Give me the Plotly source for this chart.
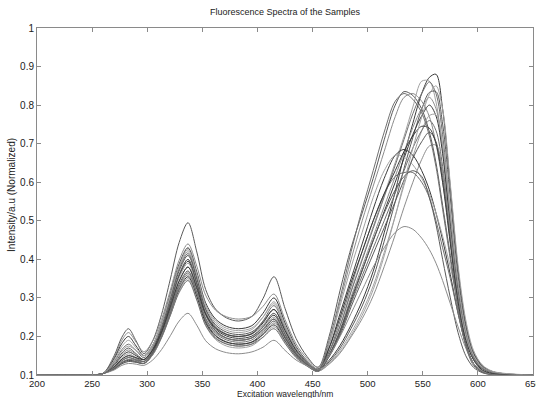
import plotly.graph_objects as go

wavelength = [200, 250, 260, 270, 277, 283, 290, 297, 305, 313, 321, 329, 337, 345, 353, 362, 372, 383,
              395, 405, 415, 425, 435, 445, 455, 465, 475, 485, 495, 505, 515, 525, 533, 541, 549, 556,
              562, 568, 575, 582, 589, 596, 604, 613, 625, 650]

s01 = [0.1, 0.1, 0.104, 0.150, 0.198, 0.220, 0.188, 0.155, 0.189, 0.257, 0.349, 0.444, 0.495, 0.419, 0.322, 0.271, 0.248, 0.240,
       0.252, 0.298, 0.355, 0.273, 0.195, 0.148, 0.120, 0.20, 0.32, 0.43, 0.52, 0.61, 0.71, 0.80, 0.835, 0.825, 0.79, 0.73,
       0.65, 0.54, 0.41, 0.28, 0.18, 0.13, 0.108, 0.102, 0.1, 0.1]
s02 = [0.1, 0.1, 0.104, 0.146, 0.190, 0.210, 0.185, 0.160, 0.188, 0.244, 0.320, 0.398, 0.440, 0.382, 0.307, 0.268, 0.251, 0.245,
       0.252, 0.278, 0.310, 0.244, 0.181, 0.143, 0.120, 0.18, 0.29, 0.40, 0.50, 0.59, 0.68, 0.77, 0.82, 0.83, 0.81, 0.77,
       0.70, 0.60, 0.46, 0.31, 0.20, 0.14, 0.11, 0.102, 0.1, 0.1]
s03 = [0.1, 0.1, 0.104, 0.142, 0.182, 0.200, 0.175, 0.150, 0.178, 0.234, 0.310, 0.388, 0.430, 0.367, 0.287, 0.245, 0.226, 0.220,
       0.228, 0.260, 0.300, 0.235, 0.174, 0.137, 0.115, 0.138, 0.177, 0.230, 0.292, 0.369, 0.469, 0.576, 0.669, 0.753, 0.830, 0.872,
       0.880, 0.790, 0.586, 0.374, 0.233, 0.159, 0.124, 0.109, 0.103, 0.1]
s04 = [0.1, 0.1, 0.104, 0.138, 0.174, 0.190, 0.170, 0.150, 0.177, 0.231, 0.304, 0.380, 0.420, 0.357, 0.277, 0.235, 0.216, 0.210,
       0.218, 0.250, 0.290, 0.229, 0.171, 0.136, 0.115, 0.160, 0.228, 0.319, 0.402, 0.485, 0.568, 0.651, 0.719, 0.795, 0.862, 0.862,
       0.808, 0.685, 0.485, 0.316, 0.200, 0.146, 0.118, 0.106, 0.102, 0.1]
s05 = [0.1, 0.1, 0.104, 0.134, 0.166, 0.180, 0.163, 0.145, 0.172, 0.226, 0.299, 0.375, 0.415, 0.351, 0.269, 0.226, 0.206, 0.200,
       0.208, 0.240, 0.280, 0.222, 0.168, 0.135, 0.115, 0.160, 0.227, 0.316, 0.398, 0.480, 0.562, 0.644, 0.711, 0.778, 0.830, 0.860,
       0.830, 0.723, 0.518, 0.336, 0.214, 0.149, 0.119, 0.108, 0.102, 0.1]
s06 = [0.1, 0.1, 0.104, 0.129, 0.157, 0.170, 0.155, 0.140, 0.167, 0.221, 0.294, 0.370, 0.410, 0.349, 0.271, 0.230, 0.211, 0.205,
       0.212, 0.238, 0.270, 0.215, 0.163, 0.131, 0.112, 0.134, 0.170, 0.221, 0.279, 0.352, 0.447, 0.549, 0.636, 0.716, 0.789, 0.833,
       0.835, 0.751, 0.559, 0.359, 0.226, 0.156, 0.122, 0.109, 0.103, 0.1]
s07 = [0.1, 0.1, 0.104, 0.127, 0.153, 0.165, 0.153, 0.140, 0.166, 0.218, 0.288, 0.361, 0.400, 0.340, 0.264, 0.224, 0.206, 0.200,
       0.206, 0.230, 0.260, 0.208, 0.159, 0.130, 0.112, 0.154, 0.218, 0.303, 0.381, 0.459, 0.537, 0.615, 0.678, 0.742, 0.792, 0.820,
       0.791, 0.690, 0.496, 0.323, 0.208, 0.147, 0.118, 0.107, 0.102, 0.1]
s08 = [0.1, 0.1, 0.104, 0.125, 0.149, 0.160, 0.150, 0.140, 0.166, 0.217, 0.285, 0.357, 0.395, 0.335, 0.259, 0.219, 0.201, 0.195,
       0.201, 0.225, 0.255, 0.204, 0.156, 0.127, 0.110, 0.151, 0.214, 0.296, 0.372, 0.448, 0.524, 0.600, 0.662, 0.724, 0.772, 0.800,
       0.772, 0.674, 0.485, 0.317, 0.205, 0.146, 0.118, 0.107, 0.102, 0.1]
s09 = [0.1, 0.1, 0.104, 0.123, 0.145, 0.155, 0.145, 0.135, 0.161, 0.212, 0.280, 0.352, 0.390, 0.330, 0.254, 0.214, 0.196, 0.190,
       0.196, 0.220, 0.250, 0.201, 0.155, 0.127, 0.110, 0.130, 0.164, 0.210, 0.264, 0.331, 0.418, 0.512, 0.592, 0.666, 0.733, 0.773,
       0.775, 0.698, 0.522, 0.338, 0.216, 0.151, 0.120, 0.108, 0.103, 0.1]
s10 = [0.1, 0.1, 0.104, 0.121, 0.141, 0.150, 0.143, 0.135, 0.160, 0.209, 0.275, 0.343, 0.380, 0.322, 0.247, 0.208, 0.191, 0.185,
       0.191, 0.215, 0.245, 0.198, 0.153, 0.126, 0.110, 0.149, 0.208, 0.286, 0.357, 0.429, 0.500, 0.572, 0.630, 0.689, 0.734, 0.760,
       0.734, 0.641, 0.463, 0.305, 0.199, 0.143, 0.117, 0.107, 0.102, 0.1]
s11 = [0.1, 0.1, 0.104, 0.119, 0.137, 0.145, 0.140, 0.135, 0.159, 0.206, 0.269, 0.335, 0.370, 0.313, 0.241, 0.203, 0.186, 0.180,
       0.186, 0.210, 0.240, 0.195, 0.152, 0.126, 0.110, 0.147, 0.203, 0.277, 0.346, 0.414, 0.482, 0.550, 0.606, 0.662, 0.705, 0.730,
       0.705, 0.617, 0.447, 0.295, 0.195, 0.141, 0.116, 0.106, 0.102, 0.1]
s12 = [0.1, 0.1, 0.104, 0.117, 0.133, 0.140, 0.135, 0.130, 0.153, 0.199, 0.261, 0.326, 0.360, 0.305, 0.234, 0.197, 0.181, 0.175,
       0.181, 0.205, 0.235, 0.191, 0.150, 0.125, 0.110, 0.128, 0.157, 0.199, 0.246, 0.305, 0.381, 0.464, 0.535, 0.600, 0.659, 0.694,
       0.696, 0.628, 0.472, 0.310, 0.202, 0.145, 0.118, 0.107, 0.102, 0.1]
s13 = [0.1, 0.1, 0.104, 0.116, 0.131, 0.138, 0.134, 0.130, 0.153, 0.198, 0.258, 0.321, 0.355, 0.303, 0.236, 0.201, 0.185, 0.180,
       0.185, 0.205, 0.230, 0.188, 0.148, 0.124, 0.110, 0.17, 0.26, 0.35, 0.44, 0.53, 0.61, 0.67, 0.685, 0.67, 0.63, 0.58,
       0.52, 0.45, 0.36, 0.26, 0.18, 0.13, 0.108, 0.102, 0.1, 0.1]
s14 = [0.1, 0.1, 0.104, 0.115, 0.129, 0.135, 0.133, 0.130, 0.152, 0.196, 0.255, 0.317, 0.350, 0.296, 0.228, 0.192, 0.175, 0.170,
       0.176, 0.198, 0.225, 0.185, 0.147, 0.124, 0.110, 0.18, 0.28, 0.38, 0.47, 0.56, 0.63, 0.67, 0.665, 0.645, 0.61, 0.57,
       0.52, 0.46, 0.38, 0.29, 0.20, 0.14, 0.112, 0.103, 0.1, 0.1]
s15 = [0.1, 0.1, 0.104, 0.117, 0.133, 0.140, 0.138, 0.135, 0.156, 0.198, 0.255, 0.314, 0.345, 0.294, 0.229, 0.195, 0.180, 0.175,
       0.180, 0.198, 0.220, 0.182, 0.145, 0.123, 0.110, 0.16, 0.24, 0.33, 0.42, 0.50, 0.57, 0.615, 0.625, 0.625, 0.60, 0.56,
       0.50, 0.43, 0.35, 0.26, 0.18, 0.13, 0.11, 0.102, 0.1, 0.1]
s16 = [0.1, 0.1, 0.104, 0.115, 0.129, 0.135, 0.133, 0.130, 0.157, 0.211, 0.284, 0.360, 0.400, 0.337, 0.257, 0.215, 0.196, 0.190,
       0.196, 0.218, 0.245, 0.198, 0.155, 0.128, 0.112, 0.15, 0.21, 0.29, 0.37, 0.45, 0.52, 0.58, 0.615, 0.63, 0.615, 0.56,
       0.49, 0.40, 0.30, 0.21, 0.15, 0.12, 0.106, 0.101, 0.1, 0.1]
s17 = [0.1, 0.1, 0.104, 0.113, 0.125, 0.130, 0.128, 0.125, 0.139, 0.166, 0.202, 0.240, 0.260, 0.229, 0.189, 0.168, 0.158, 0.155,
       0.160, 0.172, 0.190, 0.164, 0.139, 0.124, 0.115, 0.15, 0.20, 0.26, 0.32, 0.38, 0.43, 0.47, 0.485, 0.478, 0.455, 0.425,
       0.39, 0.345, 0.285, 0.225, 0.17, 0.13, 0.11, 0.102, 0.1, 0.1]
s18 = [0.1, 0.1, 0.104, 0.121, 0.141, 0.150, 0.145, 0.140, 0.164, 0.212, 0.277, 0.344, 0.380, 0.326, 0.258, 0.222, 0.205, 0.200,
       0.207, 0.235, 0.270, 0.216, 0.165, 0.134, 0.115, 0.17, 0.25, 0.34, 0.42, 0.50, 0.57, 0.63, 0.68, 0.72, 0.745, 0.74,
       0.70, 0.60, 0.44, 0.29, 0.19, 0.14, 0.113, 0.104, 0.101, 0.1]
s19 = [0.1, 0.1, 0.104, 0.132, 0.162, 0.175, 0.163, 0.150, 0.178, 0.233, 0.307, 0.384, 0.425, 0.362, 0.282, 0.240, 0.221, 0.215,
       0.222, 0.250, 0.285, 0.226, 0.169, 0.135, 0.115, 0.130, 0.159, 0.203, 0.255, 0.321, 0.409, 0.512, 0.600, 0.688, 0.769, 0.828,
       0.850, 0.790, 0.595, 0.385, 0.243, 0.164, 0.126, 0.110, 0.104, 0.1]
s20 = [0.1, 0.1, 0.104, 0.119, 0.137, 0.145, 0.138, 0.130, 0.154, 0.201, 0.264, 0.330, 0.365, 0.313, 0.246, 0.211, 0.195, 0.190,
       0.197, 0.225, 0.260, 0.208, 0.159, 0.130, 0.112, 0.19, 0.30, 0.42, 0.53, 0.63, 0.73, 0.81, 0.83, 0.815, 0.78, 0.72,
       0.64, 0.53, 0.40, 0.27, 0.175, 0.125, 0.107, 0.101, 0.1, 0.1]

samples = [s01, s02, s03, s04, s05, s06, s07, s08, s09, s10,
           s11, s12, s13, s14, s15, s16, s17, s18, s19, s20]

x_ticks = [200, 250, 300, 350, 400, 450, 500, 550, 600, 650]
x_tick_text = ["200", "250", "300", "350", "400", "450", "500", "550", "600", "650"]
y_ticks = [0.1, 0.2, 0.3, 0.4, 0.5, 0.6, 0.7, 0.8, 0.9, 1.0]
y_tick_text = ["0.1", "0.2", "0.3", "0.4", "0.5", "0.6", "0.7", "0.8", "0.9", "1"]

palette = ["#5a5a5a", "#8c8c8c", "#3a3a3a", "#a2a2a2", "#707070"]

fig = go.Figure()
for i, s in enumerate(samples):
    fig.add_trace(go.Scatter(
        x=wavelength, y=s, mode="lines",
        line=dict(color=palette[i % len(palette)], width=1, shape="spline", smoothing=0.9),
        showlegend=False, hoverinfo="skip"))

axis_common = dict(
    showline=True, linecolor="#8a8a8a", linewidth=1, mirror="ticks",
    ticks="inside", ticklen=4, tickcolor="#8a8a8a", tickwidth=1,
    showgrid=False, zeroline=False, automargin=False, ticklabeloverflow="allow",
    tickfont=dict(family="Liberation Sans, Arial, sans-serif", size=10, color="#222222"),
)

fig.update_xaxes(range=[200, 650], tickvals=x_ticks, ticktext=x_tick_text, **axis_common)
fig.update_yaxes(range=[0.1, 1.0], tickvals=y_ticks, ticktext=y_tick_text, **axis_common)
fig.update_xaxes(tickfont=dict(size=9.5), ticklabelstandoff=0)

font_txt = dict(family="Liberation Sans, Arial, sans-serif", size=9, color="#222222")
fig.update_layout(
    template="none",
    width=536, height=398,
    margin=dict(l=37, r=3, t=28, b=23),
    paper_bgcolor="white", plot_bgcolor="white",
    annotations=[
        dict(text="Fluorescence Spectra of the Samples", xref="paper", yref="paper",
             x=0.5, y=1.046, xanchor="center", yanchor="middle", showarrow=False, font=font_txt),
        dict(text="Excitation wavelength/nm", xref="paper", yref="paper",
             x=0.5, y=-0.0346, xanchor="center", yanchor="top", showarrow=False,
             font=dict(family="Liberation Sans, Arial, sans-serif", size=8.5, color="#222222")),
        dict(text="Intensity/a.u (Normalized)", xref="paper", yref="paper",
             x=-0.0504, y=0.519, xanchor="center", yanchor="middle", textangle=-90,
             showarrow=False, font=dict(family="Liberation Sans, Arial, sans-serif", size=10, color="#222222")),
    ],
)

fig.write_html("out.html")
